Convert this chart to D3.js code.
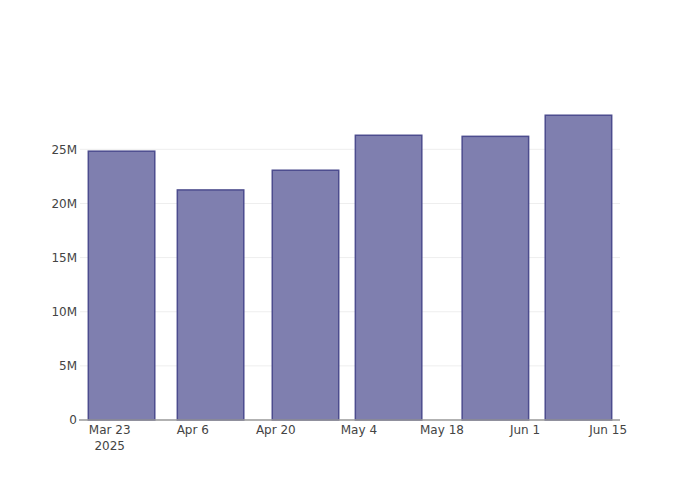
<!DOCTYPE html>
<html>
<head>
<meta charset="utf-8">
<script src="https://cdn.jsdelivr.net/npm/d3@7"></script>
<style>
  html, body { margin: 0; padding: 0; background: #fff; }
  svg { display: block; font-family: "DejaVu Sans", Verdana, sans-serif; }
</style>
</head>
<body>
<svg id="chart" width="700" height="500"></svg>
<script>
// Data
const dates = ["2025-03-25", "2025-04-09", "2025-04-25", "2025-05-09", "2025-05-27", "2025-06-10"];
const values = [24.83e6, 21.25e6, 23.07e6, 26.3e6, 26.2e6, 28.15e6];
const xTickDates = ["2025-03-23", "2025-04-06", "2025-04-20", "2025-05-04", "2025-05-18", "2025-06-01", "2025-06-15"];
const xTickLabels = ["Mar 23", "Apr 6", "Apr 20", "May 4", "May 18", "Jun 1", "Jun 15"];
const yTicks = [0, 5e6, 10e6, 15e6, 20e6, 25e6];
const yTickLabels = ["0", "5M", "10M", "15M", "20M", "25M"];

const parse = d3.utcParse("%Y-%m-%d");
const DAY = 864e5;
const pts = dates.map((d, i) => ({ date: parse(d), value: values[i] }));

const margin = { left: 80, right: 80, top: 100, bottom: 80 };
const W = 700, H = 500;
const svg = d3.select("#chart");

// min spacing -> bar slot
let minGap = Infinity;
for (let i = 1; i < pts.length; i++) minGap = Math.min(minGap, pts[i].date - pts[i - 1].date);
const barW = minGap * 0.8;

const x = d3.scaleUtc()
  .domain([new Date(+pts[0].date - minGap / 2), new Date(+pts[pts.length - 1].date + minGap / 2)])
  .range([margin.left, W - margin.right]);

const y = d3.scaleLinear()
  .domain([0, d3.max(values) * 1.05])
  .range([H - margin.bottom, margin.top]);

// gridlines
svg.append("g").selectAll("line")
  .data(yTicks.filter(t => t > 0))
  .join("line")
  .attr("x1", margin.left).attr("x2", W - margin.right)
  .attr("y1", d => y(d)).attr("y2", d => y(d))
  .attr("stroke", "#eeeeee").attr("stroke-width", 1);

// bars
svg.append("g").selectAll("rect")
  .data(pts)
  .join("rect")
  .attr("x", d => x(new Date(+d.date - barW / 2)))
  .attr("width", d => x(new Date(+d.date + barW / 2)) - x(new Date(+d.date - barW / 2)))
  .attr("y", d => y(d.value))
  .attr("height", d => y(0) - y(d.value))
  .attr("fill", "rgb(127,127,175)")
  .attr("stroke", "rgb(76,76,142)")
  .attr("stroke-width", 1.5);

// x axis line
svg.append("line")
  .attr("x1", margin.left - 1).attr("x2", W - margin.right)
  .attr("y1", y(0)).attr("y2", y(0))
  .attr("stroke", "#999999").attr("stroke-width", 1.5);

// y tick labels
svg.append("g").selectAll("text")
  .data(yTicks)
  .join("text")
  .attr("x", margin.left - 3)
  .attr("y", d => y(d))
  .attr("dy", "0.35em")
  .attr("text-anchor", "end")
  .attr("font-size", 12)
  .attr("fill", "#444")
  .text((d, i) => yTickLabels[i]);

// x tick labels
const xt = svg.append("g").selectAll("text")
  .data(xTickDates)
  .join("text")
  .attr("x", d => x(parse(d)))
  .attr("y", y(0) + 14)
  .attr("text-anchor", "middle")
  .attr("font-size", 12)
  .attr("fill", "#444");
xt.append("tspan").text((d, i) => xTickLabels[i]);
xt.filter((d, i) => i === 0)
  .append("tspan")
  .attr("x", d => x(parse(d)))
  .attr("dy", 15.6)
  .text(d => d.slice(0, 4));
</script>
</body>
</html>
